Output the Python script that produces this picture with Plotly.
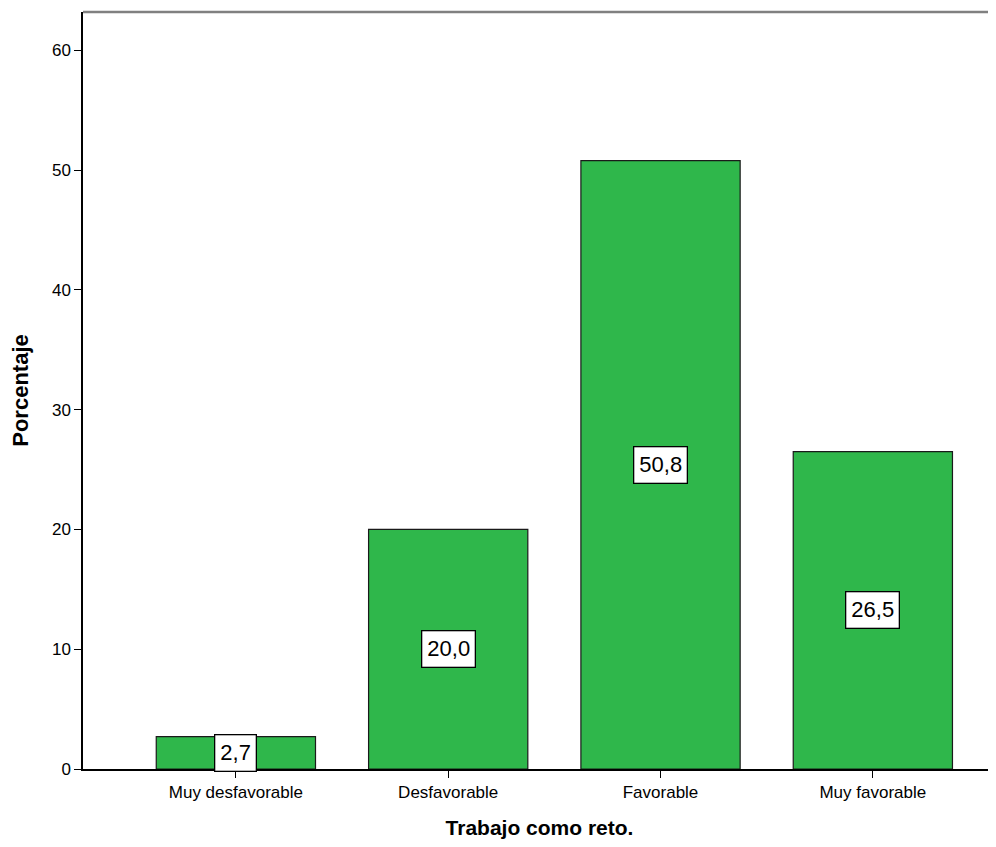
import plotly.graph_objects as go

categories = ["Muy desfavorable", "Desfavorable", "Favorable", "Muy favorable"]
values = [2.7, 20.0, 50.8, 26.5]
labels = ["2,7", "20,0", "50,8", "26,5"]
y_ticks = [0, 10, 20, 30, 40, 50, 60]

fig = go.Figure()
fig.add_trace(go.Bar(
    x=list(range(len(categories))), y=values,
    marker=dict(color="#2fb74b", line=dict(color="#1a1a1a", width=1.2)),
    width=0.75, hoverinfo="skip",
))

for i, (v, t) in enumerate(zip(values, labels)):
    fig.add_annotation(
        x=i, y=v / 2, text=t, showarrow=False,
        font=dict(family="Liberation Sans, Arial", size=22, color="black"),
        bgcolor="white", bordercolor="black", borderwidth=1.3, borderpad=5,
        xref="x", yref="y",
    )

fig.add_shape(type="line", xref="paper", yref="paper", x0=0, x1=1, y0=1, y1=1,
              line=dict(color="#808080", width=2.5))

fig.update_layout(
    width=988, height=831,
    margin=dict(l=75, r=0, t=4, b=70),
    plot_bgcolor="white", paper_bgcolor="white",
    showlegend=False,
    font=dict(family="Liberation Sans, Arial", color="black"),
    xaxis=dict(
        range=[-0.72, 3.58], tickmode="array", tickvals=list(range(len(categories))),
        ticktext=categories, ticks="outside", ticklen=7, tickcolor="black",
        showline=True, linecolor="black", linewidth=1.5, showgrid=False, zeroline=False,
        tickfont=dict(size=17),
        title=dict(text="<b>Trabajo como reto.</b>", font=dict(size=21), standoff=23),
    ),
    yaxis=dict(
        range=[0, 63.2], tickmode="array", tickvals=y_ticks,
        ticks="outside", ticklen=7, tickcolor="black",
        showline=True, linecolor="black", linewidth=1.5, showgrid=False, zeroline=False,
        tickfont=dict(size=17),
        title=dict(text="<b>Porcentaje</b>", font=dict(size=22), standoff=18),
    ),
)

fig.write_html("out.html")
